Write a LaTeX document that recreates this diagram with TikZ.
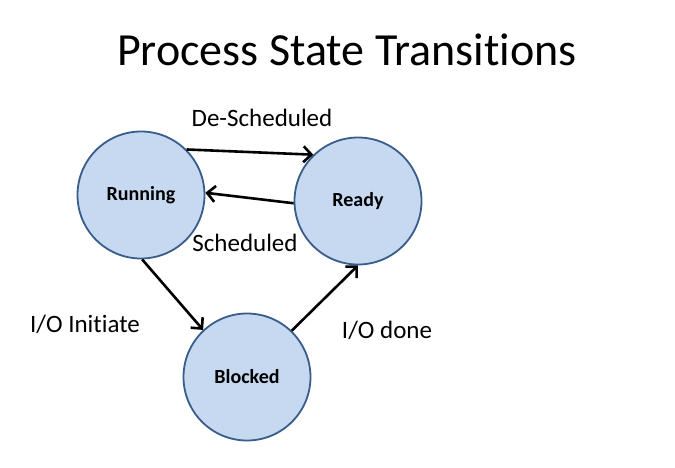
\documentclass[tikz,border=0pt]{standalone}
\usepackage{fontspec}
\setmainfont[Ligatures=NoCommon]{Carlito}
\usetikzlibrary{arrows.meta}
\definecolor{statefill}{RGB}{198,217,240}
\definecolor{stateline}{RGB}{56,93,138}
\tikzset{
  state/.style={circle, draw=stateline, line width=1.8pt, fill=statefill, minimum size=127pt, inner sep=0pt, font=\fontsize{20}{22}\selectfont\bfseries},
  trans/.style={line width=2.6pt, -{Straight Barb[length=8pt,width=16pt,line width=2.6pt]}},
  lbl/.style={font=\fontsize{25}{28}\selectfont}
}
\begin{document}
\begin{tikzpicture}[x=1pt,y=-1pt]
  \useasboundingbox[fill=white] (0,0) rectangle (675,467);
  \node (title) at (347,50) {\fontsize{46}{50}\selectfont Process State Transitions};
  % the three states
  \node[state] (running) at (141,195) {Running};
  \node[state] (ready)   at (358,201) {Ready};
  \node[state] (blocked) at (247,377) {Blocked};
  % transitions
  \draw[trans] (running.45) -- (ready.134);
  \draw[trans] (ready.182) -- (running.2);
  \draw[trans] (running.-89) -- (blocked.133);
  \draw[trans] (blocked.46) -- (ready.-90);
  % labels
  \node[lbl] (desched) at (262,118) {De-Scheduled};
  \node[lbl] (sched)   at (245,243) {Scheduled};
  \node[lbl] (ioinit)  at (85,324)  {I/O Initiate};
  \node[lbl] (iodone)  at (387,330) {I/O done};
\end{tikzpicture}
\end{document}
